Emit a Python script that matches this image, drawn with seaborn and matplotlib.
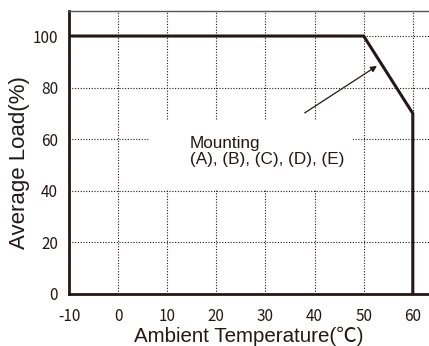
import matplotlib
matplotlib.use("Agg")
import matplotlib.pyplot as plt
import seaborn as sns
import pandas as pd
from matplotlib.patches import Rectangle

# Data
temperature = [-10, 50, 60, 60]
load = [100, 100, 70, 0]
x_ticks = [-10, 0, 10, 20, 30, 40, 50, 60]
y_ticks = [0, 20, 40, 60, 80, 100]
annotation_lines = ["Mounting", "(A), (B), (C), (D), (E)"]

INK = "#231815"

sns.set_theme(style="white")
plt.rcParams["font.family"] = ["Liberation Sans", "Noto Sans CJK JP", "DejaVu Sans"]

fig = plt.figure(figsize=(4.29, 3.46), dpi=100)
ax = fig.add_axes([69 / 429, 52 / 346, 1 - 69 / 429, (294 - 11) / 346])

df = pd.DataFrame({"t": temperature, "load": load})
sns.lineplot(data=df, x="t", y="load", sort=False, estimator=None, ax=ax, color=INK,
             linewidth=2.2, zorder=5, solid_joinstyle="miter")

ax.set_xlim(-10, 63.3)
ax.set_ylim(0, 109.7)
ax.set_xticks(x_ticks)
ax.set_yticks(y_ticks)
tick_font = ["Noto Sans CJK JP", "DejaVu Sans"]
ax.set_xticklabels([str(v) for v in x_ticks], family=tick_font, fontsize=11, color=INK)
ax.set_yticklabels([str(v) for v in y_ticks], family=tick_font, fontsize=11, color=INK)
ax.tick_params(axis="both", length=0)
ax.tick_params(axis="x", pad=10)
ax.tick_params(axis="y", pad=8)

ax.grid(True, linestyle=(0, (1.0, 1.5)), color=INK, linewidth=0.8)
ax.set_axisbelow(True)

for s in ["left", "bottom"]:
    ax.spines[s].set_color(INK)
    ax.spines[s].set_linewidth(2.0)
ax.spines["top"].set_color("#555555")
ax.spines["top"].set_linewidth(1.0)
ax.spines["right"].set_visible(False)

ax.set_xlabel("Ambient Temperature(℃)", fontsize=14.8, color=INK, labelpad=1.5)
ax.set_ylabel("Average Load(%)", fontsize=16, color=INK)
ax.yaxis.set_label_coords(-0.108, 0.463)

# white box behind annotation
ax.add_patch(Rectangle((6.5, 40.3), 41.3, 27.1, facecolor="white",
                       edgecolor="none", zorder=2))
ax.text(14.6, 55.3, "\n".join(annotation_lines), fontsize=12.3, color=INK,
        va="center", ha="left", linespacing=1.12, zorder=6)
ax.annotate("", xy=(52.7, 88.4), xytext=(38.0, 70.2),
            arrowprops=dict(arrowstyle="-|>", color=INK, lw=0.9,
                            mutation_scale=9, shrinkA=0, shrinkB=0), zorder=6)

fig.savefig("out.png", dpi=100)
